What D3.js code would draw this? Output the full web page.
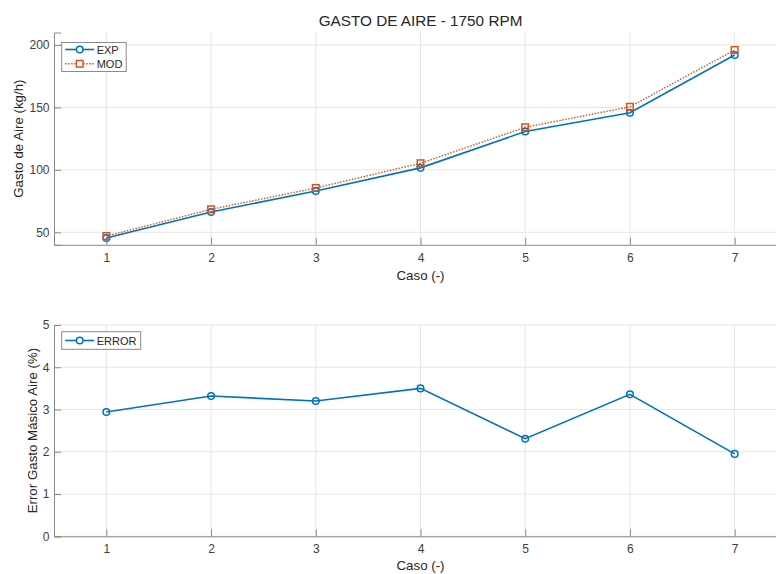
<!DOCTYPE html>
<html><head><meta charset="utf-8">
<script src="https://cdn.jsdelivr.net/npm/d3@7"></script>
<style>
body{margin:0;background:#fff;}
svg{display:block;font-family:"Liberation Sans",Arial,Helvetica,sans-serif;}
</style></head>
<body>
<svg id="c" width="776" height="574"></svg>
<script>
const casos = [1,2,3,4,5,6,7];
const xTicks = [1,2,3,4,5,6,7];
const expValues = [45.5, 66.3, 83.1, 101.6, 130.7, 145.7, 192.0];
const modValues = [47.0, 68.4, 85.5, 105.3, 134.1, 150.5, 196.0];
const errorValues = [2.94, 3.32, 3.20, 3.50, 2.31, 3.36, 1.95];
const topYTicks = [50,100,150,200];
const botYTicks = [0,1,2,3,4,5];

const svg = d3.select("#c");
const BLUE = "#0072BD", ORANGE = "#D95319";
const AX = "#8a8a8a", TXT = "#404040", GRID = "#e6e6e6";
const FONT = "'Liberation Sans',Arial,Helvetica,sans-serif";

const x = d3.scaleLinear().domain([0.5,7.5]).range([54,787]);

function panel(yDomain, yRange, yTicks) {
  const y = d3.scaleLinear().domain(yDomain).range(yRange);
  const g = svg.append("g");
  g.selectAll(".gx").data(xTicks).enter().append("line")
    .attr("x1",d=>x(d)).attr("x2",d=>x(d)).attr("y1",yRange[0]).attr("y2",yRange[1])
    .attr("stroke",GRID).attr("stroke-width",1);
  g.selectAll(".gy").data(yTicks).enter().append("line")
    .attr("x1",x.range()[0]).attr("x2",x.range()[1]).attr("y1",d=>y(d)).attr("y2",d=>y(d))
    .attr("stroke",GRID).attr("stroke-width",1);
  const xa = g.append("g").attr("transform",`translate(0,${yRange[0]})`)
    .call(d3.axisBottom(x).tickValues(xTicks).tickSize(-7).tickPadding(8.5).tickFormat(d3.format("d")));
  const ya = g.append("g").attr("transform",`translate(${x.range()[0]},0)`)
    .call(d3.axisLeft(y).tickValues(yTicks).tickSize(-7).tickPadding(4.5).tickFormat(d3.format("d")));
  [xa,ya].forEach(a=>{
    a.attr("font-family",FONT).attr("font-size",12);
    a.select(".domain").attr("stroke",AX).attr("stroke-width",1);
    a.selectAll(".tick line").attr("stroke",AX);
    a.selectAll(".tick text").attr("fill",TXT).attr("font-size","12px");
  });
  return {g,y};
}

// Top panel
const topP = panel([40,210],[244.8,32.5],topYTicks);
const lineTop = d3.line().x((d,i)=>x(casos[i])).y(d=>topP.y(d));
topP.g.append("path").datum(expValues).attr("d",lineTop)
  .attr("fill","none").attr("stroke",BLUE).attr("stroke-width",1.6);
topP.g.append("path").datum(modValues).attr("d",lineTop)
  .attr("fill","none").attr("stroke",ORANGE).attr("stroke-width",1.4).attr("stroke-dasharray","1.5,1.5");
topP.g.selectAll(".mexp").data(expValues).enter().append("circle")
  .attr("cx",(d,i)=>x(casos[i])).attr("cy",d=>topP.y(d)).attr("r",3.3)
  .attr("fill","none").attr("stroke",BLUE).attr("stroke-width",1.5);
topP.g.selectAll(".mmod").data(modValues).enter().append("rect")
  .attr("x",(d,i)=>x(casos[i])-3.3).attr("y",d=>topP.y(d)-3.3).attr("width",6.6).attr("height",6.6)
  .attr("fill","none").attr("stroke",ORANGE).attr("stroke-width",1.5);

// Bottom panel
const botP = panel([0,5],[536.3,325],botYTicks);
const lineBot = d3.line().x((d,i)=>x(casos[i])).y(d=>botP.y(d));
botP.g.append("path").datum(errorValues).attr("d",lineBot)
  .attr("fill","none").attr("stroke",BLUE).attr("stroke-width",1.6);
botP.g.selectAll(".merr").data(errorValues).enter().append("circle")
  .attr("cx",(d,i)=>x(casos[i])).attr("cy",d=>botP.y(d)).attr("r",3.3)
  .attr("fill","none").attr("stroke",BLUE).attr("stroke-width",1.5);

// Title
svg.append("text").attr("x",420.5).attr("y",26).attr("text-anchor","middle")
  .attr("font-size","15.3px").attr("fill","#262626").text("GASTO DE AIRE - 1750 RPM");
// Axis labels
svg.append("text").attr("x",420.5).attr("y",279.5).attr("text-anchor","middle")
  .attr("font-size","13.3px").attr("fill","#262626").text("Caso (-)");
svg.append("text").attr("x",420.5).attr("y",570).attr("text-anchor","middle")
  .attr("font-size","13.3px").attr("fill","#262626").text("Caso (-)");
svg.append("text").attr("transform","translate(23,138.6) rotate(-90)").attr("text-anchor","middle")
  .attr("font-size","13.3px").attr("fill","#262626").text("Gasto de Aire (kg/h)");
svg.append("text").attr("transform","translate(37,430.6) rotate(-90)").attr("text-anchor","middle")
  .attr("font-size","13.3px").attr("fill","#262626").text("Error Gasto Másico Aire (%)");

// Legends
function legend(x0,y0,w,h,items){
  const g = svg.append("g");
  g.append("rect").attr("x",x0).attr("y",y0).attr("width",w).attr("height",h)
    .attr("fill","#fff").attr("stroke","#8a8a8a").attr("stroke-width",1);
  items.forEach((it,i)=>{
    const cy = y0 + 7 + i*14.3 + (items.length===1?1.8:0);
    const ln = g.append("line").attr("x1",x0+3.5).attr("x2",x0+32.5).attr("y1",cy).attr("y2",cy)
      .attr("stroke",it.color).attr("stroke-width",it.dash?1.4:1.6);
    if(it.dash) ln.attr("stroke-dasharray","1.5,1.5");
    const mx = x0+18;
    if(it.marker==="circle"){
      g.append("circle").attr("cx",mx).attr("cy",cy).attr("r",3.3).attr("fill","#fff")
        .attr("stroke",it.color).attr("stroke-width",1.5);
    } else {
      g.append("rect").attr("x",mx-3.3).attr("y",cy-3.3).attr("width",6.6).attr("height",6.6)
        .attr("fill","#fff").attr("stroke",it.color).attr("stroke-width",1.5);
    }
    g.append("text").attr("x",x0+35).attr("y",cy+4).attr("font-size","11px")
      .attr("fill","#262626").text(it.label);
  });
}
legend(61.7,42.5,64.5,29,[{label:"EXP",color:BLUE,marker:"circle"},{label:"MOD",color:ORANGE,marker:"square",dash:true}]);
legend(61.7,331.7,79,17.6,[{label:"ERROR",color:BLUE,marker:"circle"}]);
</script>
</body></html>
